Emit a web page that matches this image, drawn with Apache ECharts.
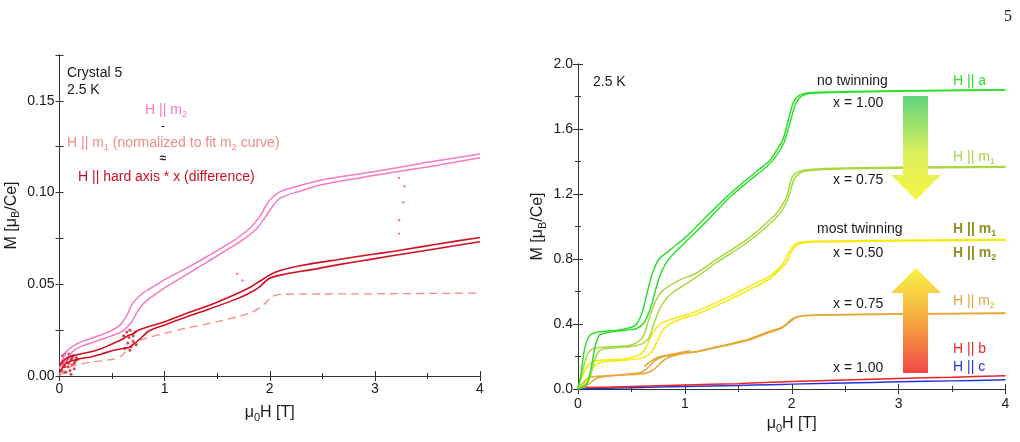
<!DOCTYPE html>
<html>
<head>
<meta charset="utf-8">
<script src="https://cdn.jsdelivr.net/npm/echarts@6/dist/echarts.min.js"></script>
<style>
  html, body { margin: 0; padding: 0; background: #fff; }
  #main { width: 1020px; height: 442px; }
</style>
</head>
<body>
<div id="main"></div>
<script>
// ---- left panel: crystal 5, M [muB/Ce] vs mu0H [T] ----
const m2Up = [[0,0.004],[0.03,0.009],[0.07,0.0135],[0.12,0.016],[0.2,0.0185],[0.3,0.0205],[0.4,0.0225],[0.5,0.025],[0.58,0.028],[0.64,0.033],[0.69,0.039],[0.74,0.0425],[0.8,0.0455],[0.9,0.049],[1.0,0.0525],[1.2,0.0585],[1.4,0.065],[1.66,0.074],[1.8,0.08],[1.9,0.0865],[1.97,0.0935],[2.02,0.097],[2.1,0.1005],[2.3,0.104],[2.5,0.107],[3.0,0.1115],[3.5,0.1165],[4.0,0.121]];
const m2Down = [[0,0.001],[0.03,0.005],[0.07,0.0095],[0.12,0.013],[0.2,0.016],[0.3,0.018],[0.4,0.02],[0.5,0.022],[0.6,0.0245],[0.68,0.029],[0.74,0.035],[0.79,0.039],[0.85,0.042],[1.0,0.048],[1.2,0.055],[1.4,0.062],[1.6,0.069],[1.75,0.0745],[1.87,0.08],[1.95,0.086],[2.02,0.092],[2.1,0.097],[2.3,0.101],[2.5,0.1044],[3.0,0.1094],[3.5,0.114],[4.0,0.119]];
const m1Norm = [[0,0.0],[0.05,0.003],[0.1,0.005],[0.2,0.0065],[0.3,0.0075],[0.4,0.0083],[0.5,0.009],[0.58,0.0105],[0.64,0.014],[0.7,0.0175],[0.76,0.0195],[0.85,0.021],[1.0,0.0232],[1.2,0.026],[1.5,0.0296],[1.7,0.0325],[1.82,0.0345],[1.9,0.037],[1.96,0.0398],[2.02,0.0432],[2.1,0.0445],[2.5,0.0447],[3.0,0.0448],[4.0,0.0452]];
const hardUp = [[0,0.006],[0.05,0.009],[0.1,0.0105],[0.2,0.012],[0.3,0.0132],[0.4,0.015],[0.5,0.0175],[0.6,0.02],[0.65,0.022],[0.7,0.023],[0.75,0.025],[0.8,0.026],[1.0,0.0296],[1.2,0.034],[1.4,0.038],[1.66,0.0442],[1.8,0.048],[1.9,0.0515],[2.0,0.0551],[2.1,0.0575],[2.3,0.0602],[2.64,0.0634],[3.0,0.0665],[3.27,0.0688],[3.6,0.072],[4.0,0.0755]];
const hardDown = [[0,0.002],[0.05,0.006],[0.1,0.008],[0.2,0.0095],[0.3,0.0104],[0.4,0.012],[0.5,0.0138],[0.6,0.015],[0.66,0.0155],[0.72,0.018],[0.78,0.021],[0.85,0.0245],[1.0,0.0278],[1.2,0.032],[1.4,0.036],[1.66,0.0415],[1.8,0.045],[1.9,0.0485],[2.0,0.0533],[2.16,0.0557],[2.4,0.058],[2.64,0.0606],[3.0,0.064],[3.27,0.0665],[3.6,0.0695],[4.0,0.0732]];
const hardNoise = [[0.02,0.003],[0.03,0.011],[0.04,0.007],[0.05,0.012],[0.06,0.002],[0.07,0.009],[0.08,0.005],[0.09,0.012],[0.1,0.003],[0.11,0.009],[0.12,0.006],[0.13,0.011],[0.14,0.004],[0.15,0.008],[0.16,0.01],[0.05,0.005],[0.08,0.01],[0.11,0.001],[0.03,0.006],[0.06,0.008],[0.09,0.007],[0.12,0.01],[0.14,0.007],[0.17,0.009],[0.04,0.002],[0.1,0.011],[0.61,0.022],[0.64,0.024],[0.67,0.025],[0.7,0.022],[0.72,0.024],[0.66,0.021],[0.62,0.015],[0.65,0.018],[0.68,0.016],[0.7,0.019],[0.73,0.017],[0.67,0.014]];
const strayDots = [[3.23,0.108],[3.28,0.1035],[3.27,0.0947],[3.23,0.0849],[3.23,0.0776],[1.69,0.0557],[1.74,0.052]];

// ---- right panel: M [muB/Ce] vs mu0H [T], 2.5 K ----
const aFast = [[0,0.0],[0.03,0.1],[0.06,0.24],[0.1,0.32],[0.15,0.345],[0.25,0.355],[0.4,0.365],[0.5,0.38],[0.55,0.4],[0.6,0.47],[0.65,0.6],[0.7,0.72],[0.76,0.8],[0.85,0.85],[1.0,0.93],[1.2,1.06],[1.42,1.2],[1.6,1.3],[1.73,1.37],[1.8,1.41],[1.87,1.48],[1.92,1.54],[1.97,1.66],[2.02,1.77],[2.08,1.81],[2.2,1.825],[3.0,1.835],[4.0,1.842]];
const aSlow = [[0,0.0],[0.08,0.03],[0.12,0.12],[0.16,0.26],[0.2,0.33],[0.3,0.35],[0.45,0.362],[0.55,0.372],[0.62,0.41],[0.68,0.5],[0.73,0.62],[0.78,0.72],[0.85,0.8],[1.0,0.9],[1.2,1.03],[1.42,1.18],[1.6,1.28],[1.75,1.36],[1.85,1.43],[1.93,1.52],[1.98,1.63],[2.04,1.76],[2.1,1.805],[2.2,1.82],[3.0,1.832],[4.0,1.84]];
const m1aUp = [[0,0],[0.04,0.1],[0.08,0.2],[0.13,0.245],[0.2,0.255],[0.35,0.262],[0.48,0.268],[0.55,0.285],[0.61,0.324],[0.66,0.42],[0.7,0.5],[0.75,0.57],[0.8,0.61],[0.95,0.67],[1.11,0.714],[1.3,0.8],[1.58,0.919],[1.795,1.04],[1.88,1.1],[1.95,1.18],[2.01,1.31],[2.1,1.345],[2.5,1.36],[4.0,1.37]];
const m1aDown = [[0,0],[0.1,0.05],[0.15,0.17],[0.2,0.235],[0.3,0.252],[0.5,0.262],[0.6,0.278],[0.66,0.31],[0.72,0.42],[0.77,0.5],[0.83,0.56],[0.9,0.6],[1.11,0.69],[1.3,0.78],[1.58,0.9],[1.8,1.02],[1.9,1.09],[1.97,1.18],[2.03,1.3],[2.12,1.34],[2.5,1.355],[4.0,1.365]];
const mixUp = [[0,0],[0.04,0.08],[0.1,0.15],[0.17,0.175],[0.3,0.18],[0.48,0.19],[0.58,0.211],[0.64,0.26],[0.7,0.345],[0.77,0.4],[0.86,0.426],[1.11,0.478],[1.42,0.57],[1.6,0.63],[1.79,0.693],[1.86,0.73],[1.92,0.775],[1.98,0.85],[2.045,0.898],[2.2,0.91],[4.0,0.92]];
const mixDown = [[0,0],[0.08,0.05],[0.15,0.14],[0.22,0.165],[0.4,0.175],[0.6,0.19],[0.68,0.22],[0.74,0.29],[0.79,0.36],[0.86,0.4],[1.0,0.44],[1.11,0.46],[1.42,0.55],[1.6,0.61],[1.8,0.68],[1.88,0.73],[1.95,0.78],[2.01,0.86],[2.08,0.895],[2.2,0.905],[4.0,0.915]];
const m2bUp = [[0,0],[0.05,0.04],[0.1,0.07],[0.17,0.078],[0.35,0.085],[0.52,0.095],[0.6,0.105],[0.66,0.135],[0.72,0.175],[0.8,0.2],[0.95,0.218],[1.11,0.231],[1.3,0.26],[1.58,0.303],[1.795,0.355],[1.89,0.375],[1.95,0.4],[2.01,0.435],[2.1,0.45],[2.5,0.458],[4.0,0.468]];
const m2bDown = [[0,0],[0.1,0.03],[0.17,0.065],[0.3,0.08],[0.55,0.09],[0.65,0.1],[0.72,0.125],[0.78,0.165],[0.85,0.195],[1.0,0.22],[1.11,0.228],[1.3,0.255],[1.58,0.298],[1.8,0.35],[1.9,0.372],[1.97,0.405],[2.04,0.44],[2.15,0.452],[2.5,0.457],[4.0,0.465]];
const m2bPiece = [[0.62,0.139],[0.68,0.17],[0.75,0.195],[0.85,0.21],[1.05,0.235]];
const hb = [[0,0.005],[0.05,0.015],[0.1,0.01],[0.3,0.012],[0.5,0.016],[1.0,0.025],[1.5,0.033],[1.795,0.041],[2.0,0.046],[2.5,0.056],[3.0,0.065],[3.5,0.073],[4.0,0.082]];
const hc = [[0,0],[0.5,0.008],[1.0,0.016],[1.5,0.022],[1.795,0.0265],[2.0,0.03],[2.5,0.037],[3.0,0.044],[3.5,0.05],[4.0,0.057]];

const FONT = 'Liberation Sans, Arial, sans-serif';
const INK = '#1a1a1a';

var chartDom = document.getElementById('main');
var myChart = echarts.init(chartDom);

const sub = { fontSize: 9, lineHeight: 10, verticalAlign: 'bottom', fontFamily: FONT };
const nameStyle = {
    fontSize: 16, color: INK, fontFamily: FONT,
    rich: {
        a: { fontSize: 16, lineHeight: 20, color: INK, fontFamily: FONT },
        s: { fontSize: 11, lineHeight: 11, verticalAlign: 'bottom', color: INK, fontFamily: FONT }
    }
};
const xName = '{a|μ}{s|0}{a|H [T]}';
const yName = '{a|M [μ}{s|B}{a|/Ce]}';

const axisLine = { show: true, lineStyle: { color: '#333', width: 1 } };
const label = { color: INK, fontSize: 14, fontFamily: FONT };

function xAxes(grid, gap, margin) {
    return [{
        gridIndex: grid, type: 'value', min: 0, max: 4, interval: 1, position: 'bottom',
        name: xName, nameLocation: 'middle', nameGap: gap, nameTextStyle: nameStyle,
        axisLine: axisLine, splitLine: { show: false },
        axisTick: { inside: true, length: 5, lineStyle: { color: '#333' } },
        minorTick: { show: true, splitNumber: 2, length: 3, lineStyle: { color: '#333' } },
        axisLabel: Object.assign({ margin: margin }, label)
    }, {
        gridIndex: grid, type: 'value', min: 0, max: 4, interval: 1, position: 'top',
        axisLine: axisLine, splitLine: { show: false }, axisLabel: { show: false },
        axisTick: { inside: true, length: 5, lineStyle: { color: '#333' } },
        minorTick: { show: true, splitNumber: 2, length: 3, lineStyle: { color: '#333' } }
    }];
}

const option = {
    animation: false,
    backgroundColor: '#fff',
    grid: [
        { left: 59.5, top: 55, width: 420.5, height: 321 },
        { left: 578, top: 64, width: 427.5, height: 325 }
    ],
    xAxis: xAxes(0, 27, 6).concat(xAxes(1, 25, 8)),
    yAxis: [{
        gridIndex: 0, type: 'value', min: 0, max: 0.175, interval: 0.025, position: 'left',
        name: yName, nameLocation: 'middle', nameGap: 38, nameTextStyle: nameStyle,
        axisLine: axisLine, splitLine: { show: false },
        axisTick: { inside: true, length: 4, lineStyle: { color: '#333' } },
        axisLabel: Object.assign({
            margin: 5,
            formatter: function (v) {
                const k = Math.round(v / 0.025);
                return (k % 2 === 0 && k < 7) ? v.toFixed(2) : '';
            }
        }, label)
    }, {
        gridIndex: 0, type: 'value', min: 0, max: 0.175, interval: 0.025, position: 'right',
        axisLine: axisLine, splitLine: { show: false }, axisLabel: { show: false },
        axisTick: { inside: true, length: 4, lineStyle: { color: '#333' } }
    }, {
        gridIndex: 1, type: 'value', min: 0, max: 2, interval: 0.4, position: 'left',
        name: yName, nameLocation: 'middle', nameGap: 30, nameTextStyle: nameStyle,
        axisLine: axisLine, splitLine: { show: false },
        axisTick: { inside: true, length: 5, lineStyle: { color: '#333' } },
        minorTick: { show: true, splitNumber: 2, length: 3, lineStyle: { color: '#333' } },
        axisLabel: Object.assign({ margin: 5, formatter: function (v) { return v.toFixed(1); } }, label)
    }, {
        gridIndex: 1, type: 'value', min: 0, max: 2, interval: 0.4, position: 'right',
        axisLine: axisLine, splitLine: { show: false }, axisLabel: { show: false },
        axisTick: { inside: true, length: 5, lineStyle: { color: '#333' } },
        minorTick: { show: true, splitNumber: 2, length: 3, lineStyle: { color: '#333' } }
    }],
    series: [],
    graphic: []
};

function line(xi, yi, data, color, width, dash) {
    option.series.push({
        type: 'line', xAxisIndex: xi, yAxisIndex: yi, data: data,
        showSymbol: false, smooth: 0.3, silent: true,
        lineStyle: { color: color, width: width || 1.5, type: dash || 'solid' }
    });
}
function dots(xi, yi, data, color, size) {
    option.series.push({
        type: 'scatter', xAxisIndex: xi, yAxisIndex: yi, data: data, silent: true,
        symbolSize: size, itemStyle: { color: color }
    });
}

const PINK = '#f57ac6', SALMON = '#f48a8a', DARKRED = '#cc1122';
const GREEN = '#2ee02e', LGREEN = '#a6d93e', YELLOW = '#f5ea0a', ORANGE = '#e5a838';
const RED = '#ee2222', BLUE = '#2233dd', OLIVE = '#8f8f1e';

// left
line(0, 0, m1Norm, SALMON, 1.3, [8, 5]);
line(0, 0, m2Up, PINK, 1.5);
line(0, 0, m2Down, PINK, 1.5);
line(0, 0, hardDown, DARKRED, 1.6);
line(0, 0, hardUp, DARKRED, 1.6);
dots(0, 0, hardNoise, DARKRED, 3);
dots(0, 0, strayDots, '#e27070', 2.5);
// right
line(2, 2, hc, BLUE, 1.5);
line(2, 2, hb, RED, 1.5);
line(2, 2, m2bDown, ORANGE, 1.5);
line(2, 2, m2bUp, ORANGE, 1.5);
line(2, 2, m2bPiece, ORANGE, 1.5);
line(2, 2, mixDown, YELLOW, 1.5);
line(2, 2, mixUp, YELLOW, 1.5);
line(2, 2, m1aDown, LGREEN, 1.5);
line(2, 2, m1aUp, LGREEN, 1.5);
line(2, 2, aSlow, GREEN, 1.5);
line(2, 2, aFast, GREEN, 1.5);

// annotations
function txt(x, y, text, color, opts) {
    opts = opts || {};
    const size = opts.size || 14;
    option.graphic.push({
        type: 'text', x: x, y: y, silent: true, z: 100,
        style: {
            text: text, fill: color, align: opts.align || 'left', verticalAlign: 'middle',
            fontSize: size, fontFamily: opts.family || FONT, fontWeight: opts.weight || 'normal',
            rich: {
                a: { fontSize: size, lineHeight: 18, fill: color, fontFamily: FONT, fontWeight: opts.weight || 'normal' },
                s: Object.assign({ fill: color, fontWeight: opts.weight || 'normal' }, sub)
            }
        }
    });
}
txt(1008, 17, '5', '#111', { size: 16, family: 'Liberation Serif, DejaVu Serif, serif', align: 'center' });

txt(67, 73, 'Crystal 5', INK);
txt(67, 90, '2.5 K', INK);
txt(166, 110, '{a|H || m}{s|2}', PINK, { align: 'center' });
txt(163, 127, '-', INK, { size: 12, align: 'center' });
txt(67, 143, '{a|H || m}{s|1}{a| (normalized to fit m}{s|2}{a| curve)}', SALMON);
txt(163, 159, '≈', INK, { size: 12, align: 'center', weight: 'bold' });
txt(78, 177, 'H || hard axis * x (difference)', DARKRED);

txt(593, 82, '2.5 K', INK);
txt(817, 81, 'no twinning', INK);
txt(953, 81, 'H || a', GREEN);
txt(833, 103, 'x = 1.00', INK);
txt(953, 157, '{a|H || m}{s|1}', LGREEN);
txt(833, 180, 'x = 0.75', INK);
txt(817, 229, 'most twinning', INK);
txt(953, 229, '{a|H || m}{s|1}', OLIVE, { weight: 'bold' });
txt(833, 253, 'x = 0.50', INK);
txt(953, 253, '{a|H || m}{s|2}', OLIVE, { weight: 'bold' });
txt(833, 304, 'x = 0.75', INK);
txt(953, 301, '{a|H || m}{s|2}', ORANGE);
txt(953, 349, 'H || b', RED);
txt(833, 368, 'x = 1.00', INK);
txt(953, 367, 'H || c', BLUE);

// arrows
option.graphic.push({
    type: 'polygon', silent: true, z: 90,
    shape: { points: [[903, 96], [928, 96], [928, 175], [941, 175], [916, 200], [891, 175], [903, 175]] },
    style: {
        fill: new echarts.graphic.LinearGradient(0, 0, 0, 1, [
            { offset: 0, color: '#5fd57c' },
            { offset: 0.55, color: '#dcef5c' },
            { offset: 1, color: '#f7f545' }
        ])
    }
});
option.graphic.push({
    type: 'polygon', silent: true, z: 90,
    shape: { points: [[903, 373], [928, 373], [928, 293], [941, 293], [916, 268], [891, 293], [903, 293]] },
    style: {
        fill: new echarts.graphic.LinearGradient(0, 1, 0, 0, [
            { offset: 0, color: '#f24848' },
            { offset: 0.45, color: '#f5a040' },
            { offset: 1, color: '#f8f545' }
        ])
    }
});

option && myChart.setOption(option);
</script>
</body>
</html>
